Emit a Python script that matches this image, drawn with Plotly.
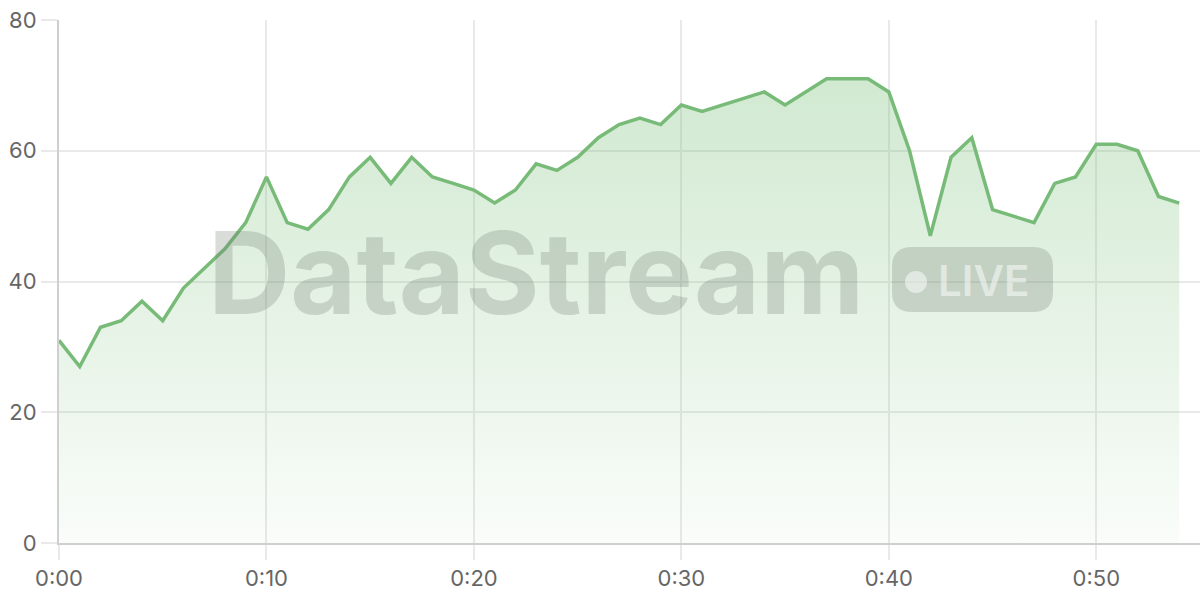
import plotly.graph_objects as go

minutes = list(range(0, 55))
values = [31, 27, 33, 34, 37, 34, 39, 42, 45, 49,
          56, 49, 48, 51, 56, 59, 55, 59, 56, 55,
          54, 52, 54, 58, 57, 59, 62, 64, 65, 64,
          67, 66, 67, 68, 69, 67, 69, 71, 71, 71,
          69, 60, 47, 59, 62, 51, 50, 49, 55, 56,
          61, 61, 60, 53, 52]
tick_vals = [0, 10, 20, 30, 40, 50]
tick_text = ["0:00", "0:10", "0:20", "0:30", "0:40", "0:50"]
y_ticks = [0, 20, 40, 60, 80]

PW, PH = 1141, 523   # plot area in px
fig = go.Figure()
fig.add_trace(go.Scatter(
    x=minutes, y=values, mode="lines", fill="tozeroy",
    line=dict(color="#78bb78", width=3.5),
    fillgradient=dict(type="vertical",
                      colorscale=[[0, "rgba(120,190,120,0.04)"],
                                  [1, "rgba(120,190,120,0.34)"]]),
    hoverinfo="skip", showlegend=False))

# watermark
wm = "rgba(110,120,110,0.26)"
fig.add_annotation(text="DataStream", xref="paper", yref="paper",
                   x=(206 - 59) / PW, y=(543 - 272) / PH, xanchor="left", yanchor="middle",
                   showarrow=False,
                   font=dict(family="Inter", size=114, weight=700, color=wm))
fig.add_shape(type="path", xref="paper", yref="paper", xsizemode="pixel", ysizemode="pixel",
              xanchor=(892 - 59) / PW, yanchor=(543 - 280) / PH,
              path="M 20 -32 L 141 -32 Q 161 -32 161 -12 L 161 13 Q 161 33 141 33 "
                   "L 20 33 Q 0 33 0 13 L 0 -12 Q 0 -32 20 -32 Z",
              fillcolor=wm, line=dict(width=0), layer="above")
fig.add_shape(type="circle", xref="paper", yref="paper", xsizemode="pixel", ysizemode="pixel",
              xanchor=(916 - 59) / PW, yanchor=(543 - 282) / PH,
              x0=-11, x1=11, y0=-11, y1=11,
              fillcolor="rgba(255,255,255,0.5)", line=dict(width=0), layer="above")
fig.add_annotation(text="LIVE", xref="paper", yref="paper",
                   x=(936 - 59) / PW, y=(543 - 280) / PH, xanchor="left", yanchor="middle",
                   showarrow=False,
                   font=dict(family="Inter", size=42, weight=600,
                             color="rgba(255,255,255,0.5)"))

fig.update_layout(
    width=1200, height=600,
    margin=dict(l=59, r=0, t=20, b=57),
    paper_bgcolor="white", plot_bgcolor="white",
    font=dict(family="Inter", size=22, color="#666"),
)
fig.update_xaxes(range=[0, 55], tickvals=tick_vals, ticktext=tick_text,
                 showgrid=True, gridcolor="#e9e9e9", gridwidth=1.5,
                 showline=True, linecolor="#cfcfcf", linewidth=2,
                 ticks="outside", ticklen=15, tickcolor="#e9e9e9", tickwidth=1.5,
                 zeroline=False)
fig.update_yaxes(range=[0, 80], tickvals=y_ticks,
                 showgrid=True, gridcolor="#e9e9e9", gridwidth=1.5,
                 showline=True, linecolor="#cfcfcf", linewidth=2,
                 ticks="outside", ticklen=16, tickcolor="#e9e9e9", tickwidth=1.5,
                 zeroline=False)

# drop the default 8px body margin so the figure fills the window
fig.write_html("out.html", config={"displayModeBar": False},
               post_script="document.body.style.margin='0';")
